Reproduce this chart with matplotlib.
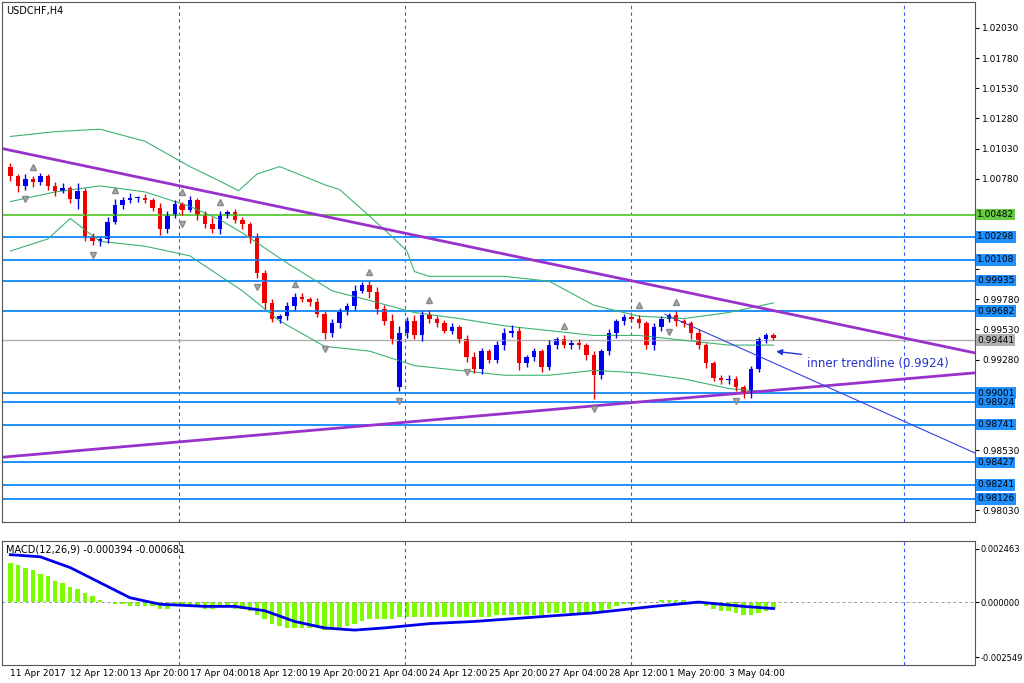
import matplotlib
matplotlib.use("Agg")
import matplotlib.pyplot as plt

# ---- data ----
closes = [1.0080,1.0072,1.0078,1.0075,1.0080,1.0072,1.0068,1.0070,1.0061,1.0068,
          1.0030,1.0026,1.0028,1.0042,1.0056,1.0060,1.0062,1.0062,1.0060,1.0054,
          1.0036,1.0048,1.0057,1.0052,1.0060,1.0048,1.0040,1.0036,1.0048,1.0050,
          1.0044,1.0040,1.0030,1.0000,0.9975,0.9962,0.9964,0.9972,0.9980,0.9978,
          0.9976,0.9966,0.9950,0.9958,0.9968,0.9972,0.9985,0.9990,0.9984,0.9970,
          0.9960,0.9945,0.9950,0.9960,0.9948,0.9965,0.9962,0.9958,0.9952,0.9955,
          0.9945,0.9930,0.9920,0.9935,0.9928,0.9940,0.9950,0.9952,0.9925,0.9930,
          0.9935,0.9922,0.9940,0.9945,0.9940,0.9942,0.9940,0.9932,0.9915,0.9935,
          0.9950,0.9960,0.9963,0.9962,0.9958,0.9940,0.9955,0.9962,0.9965,0.9960,
          0.9958,0.9950,0.9940,0.9925,0.9913,0.9911,0.9912,0.9905,0.9900,0.9920,
          0.9945,0.9948,0.9946]
opens = [1.0088] + closes[:-1]
opens[52] = 0.9905  # weekend gap
# wick lengths in pips
up_wick = [3,2,4,2,3,2,3,4,2,6, 2,3,2,4,5,3,4,2,3,2,
           4,3,3,2,4,2,3,6,3,2, 3,2,2,3,2,3,2,4,3,3,
           2,3,2,4,3,3,5,2,3,4, 3,6,6,3,5,3,4,2,3,3,
           2,3,4,3,2,3,4,5,3,2, 3,2,4,2,3,2,3,2,3,2,
           3,2,3,2,3,2,3,2,2,3, 2,2,3,2,2,2,3,2,2,3,
           2,2,2]
low_wick = [4,5,3,4,2,3,4,2,3,8, 4,3,4,3,2,3,2,3,2,3,
            5,3,3,4,2,4,3,3,4,3, 3,4,5,4,5,3,4,3,3,2,
            4,3,5,3,4,3,3,2,5,4, 3,4,3,4,3,5,4,3,2,3,
            3,4,3,4,3,3,4,3,6,3, 3,4,3,3,2,3,3,4,20,3,
            3,4,3,3,4,3,4,3,3,4, 3,5,3,4,3,3,3,3,4,4,
            2,3,2]

bb_up_idx = [0,6,12,18,24,28,30.5,33,36,42,44,48,51,53,54,56,66,72,78,84,90,96,102]
bb_upper = [1.0113,1.0117,1.0119,1.0109,1.0088,1.0076,1.0068,1.0082,1.0088,1.0073,
            1.0069,1.0047,1.0030,1.0018,1.0001,0.9997,0.9997,0.9993,0.9973,0.9964,
            0.9962,0.9967,0.9975]
bb_mid_idx = [0,6,12,18,24,28,31,37,43,48,54,60,66,72,78,84,90,96,102]
bb_mid = [1.0059,1.0067,1.0072,1.0067,1.0055,1.0044,1.0033,1.0008,0.9985,0.9977,
          0.9967,0.9962,0.9956,0.9952,0.9948,0.9948,0.9944,0.9940,0.9940]
bb_low_idx = [0,5,8,12,18,24,31,36,42,48,54,60,66,72,78,84,90,96,102]
bb_lower = [1.0018,1.0028,1.0045,1.0026,1.0022,1.0014,0.9985,0.9960,0.9939,0.9935,
            0.9923,0.9919,0.9915,0.9915,0.9919,0.9917,0.9912,0.9904,0.9901]

frac_up = [3,14,23,28,38,48,56,74,84,89]
frac_dn = [2,11,23,33,42,52,61,78,88,97]

macd_hist = [18,17,16,15,13,12,10,9,7,6, 4,3,1,0,-1,-1,-2,-2,-2,-2,
             -3,-3,-2,-2,-2,-2,-3,-3,-2,-2, -3,-3,-4,-6,-8,-10,-11,-12,-12,-12,
             -12,-12,-13,-13,-12,-11,-10,-9,-8,-8, -8,-8,-7,-7,-7,-7,-7,-7,-7,-7,
             -7,-7,-7,-7,-7,-6,-6,-6,-6,-6, -6,-6,-5,-5,-5,-5,-5,-5,-5,-4,
             -3,-2,-1,-1,0,0,0,1,1,1, 1,0,-1,-2,-3,-4,-4,-5,-6,-6, -5,-4,-3]
sig_idx = [0,4,8,12,16,20,26,30,34,38,42,46,50,56,62,70,78,86,92,98,102]
sig_vals = [22,21,16,9,2,-1,-2,-2,-4,-9,-12,-13,-12,-10,-9,-7,-5,-2,0,-2,-3]

blue_levels = [1.00298,1.00108,0.99935,0.99682,0.99001,0.98924,0.98741,0.98427,0.98241,0.98126]
green_level = 1.00482
last_price = 0.99441
price_ticks = [1.02030,1.01780,1.01530,1.01280,1.01030,1.00780,1.00530,1.00280,1.00030,
               0.99780,0.99530,0.99280,0.99030,0.98780,0.98530,0.98280,0.98030]
date_labels = ["11 Apr 2017","12 Apr 12:00","13 Apr 20:00","17 Apr 04:00","18 Apr 12:00",
               "19 Apr 20:00","21 Apr 04:00","24 Apr 12:00","25 Apr 20:00","27 Apr 04:00",
               "28 Apr 12:00","1 May 20:00","3 May 04:00"]
date_pos = [0,8,16,24,32,40,48,56,64,72,80,88,96]
vlines = [22.6, 52.8, 83.0, 119.5]

# ---- layout ----
W, H = 1024, 683
fig = plt.figure(figsize=(W/100, H/100), dpi=100)
ax = fig.add_axes([2/W, 1-522/H, 973/W, 520/H])
mx = fig.add_axes([2/W, 1-665/H, 973/W, 124/H])
sp = 7.5
xmin, xmax = -8/sp - 0.05, 967/sp
for a in (ax, mx):
    a.set_xlim(xmin, xmax)
    a.yaxis.tick_right()
    a.tick_params(axis='y', labelsize=6.5, length=3, pad=2)
    a.set_xticks([])
    for s in a.spines.values():
        s.set_color('#555555')
        s.set_linewidth(0.8)
ax.set_ylim(0.97933, 1.02245)
ax.set_yticks(price_ticks)
tagged = blue_levels + [green_level, last_price]
ax.set_yticklabels([f"{p:.5f}" if min(abs(p - t) for t in tagged) > 0.0008 else ""
                    for p in price_ticks])

for v in vlines:
    ax.axvline(v, color='#3355ff', ls=(0, (3, 3)), lw=0.8)
    mx.axvline(v, color='#3355ff', ls=(0, (3, 3)), lw=0.8)

# horizontal levels
for lv in blue_levels:
    ax.axhline(lv, color='#1e90ff', lw=1.4)
ax.axhline(green_level, color='#66cc44', lw=1.4)
ax.axhline(last_price, color='#b0b0b0', lw=1.0)

# bollinger bands
ax.plot(bb_up_idx, bb_upper, color='#3cb371', lw=0.8)
ax.plot(bb_mid_idx, bb_mid, color='#3cb371', lw=0.8)
ax.plot(bb_low_idx, bb_lower, color='#3cb371', lw=0.8)

# trendlines
ax.plot([xmin, xmax], [1.0103, 0.99335], color='#9932cc', lw=2)
ax.plot([xmin, xmax], [0.98470, 0.99170], color='#9932cc', lw=2)
ax.plot([87.5, xmax], [0.99655, 0.98505], color='#3344dd', lw=0.8)
ax.annotate("inner trendline (0.9924)", xy=(102, 0.9935), xytext=(106.5, 0.9925),
            color='#2233cc', fontsize=8.5, va='center',
            arrowprops=dict(arrowstyle='-|>', color='#2233cc', lw=1))

# candles
for i, (o, c) in enumerate(zip(opens, closes)):
    col = '#0000ee' if c >= o else '#ee0000'
    hi = max(o, c) + up_wick[i] * 0.0001
    lo = min(o, c) - low_wick[i] * 0.0001
    ax.vlines(i, lo, hi, color=col, lw=1)
    body = max(abs(c - o), 0.00004)
    ax.bar(i, body, bottom=min(o, c), width=0.6, color=col, linewidth=0)
for i in frac_up:
    ax.plot(i, max(opens[i], closes[i]) + up_wick[i]*0.0001 + 0.0008, marker='^',
            color='#aaaaaa', ms=5, mec='#888888')
for i in frac_dn:
    ax.plot(i, min(opens[i], closes[i]) - low_wick[i]*0.0001 - 0.0008, marker='v',
            color='#aaaaaa', ms=5, mec='#888888')

# right-side price labels
def tag(y, fc, tc='black'):
    ax.text(1.002, y, f"{y:.5f}", transform=ax.get_yaxis_transform(), fontsize=6.5,
            va='center', ha='left', color=tc,
            bbox=dict(boxstyle='square,pad=0.15', fc=fc, ec='none'))
for lv in blue_levels:
    tag(lv, '#1e90ff')
tag(green_level, '#66cc44')
tag(last_price, '#b0b0b0')

ax.text(0.004, 0.993, "USDCHF,H4", transform=ax.transAxes, fontsize=7, va='top')

# MACD
mx.set_ylim(-0.002920, 0.002834)
mx.set_yticks([0.002463, 0.0, -0.002549])
mx.set_yticklabels(["0.002463", "0.000000", "-0.002549"])
mx.tick_params(axis='y', labelsize=6, pad=1)
mx.axhline(0, color='#999999', ls=(0, (3, 3)), lw=0.7)
mx.bar(range(len(macd_hist)), [v * 1e-4 for v in macd_hist], width=0.6, color='#7cfc00')
mx.plot(sig_idx, [v * 1e-4 for v in sig_vals], color='#0000ee', lw=2)
mx.text(0.004, 0.97, "MACD(12,26,9) -0.000394 -0.000681", transform=mx.transAxes,
        fontsize=7, va='top')

for lab, p in zip(date_labels, date_pos):
    fig.text((2 + (p + 8/sp) * sp * 973/975) / W, 1 - 674/H, lab, fontsize=6.5, va='center')

fig.savefig("out.png", dpi=100)
